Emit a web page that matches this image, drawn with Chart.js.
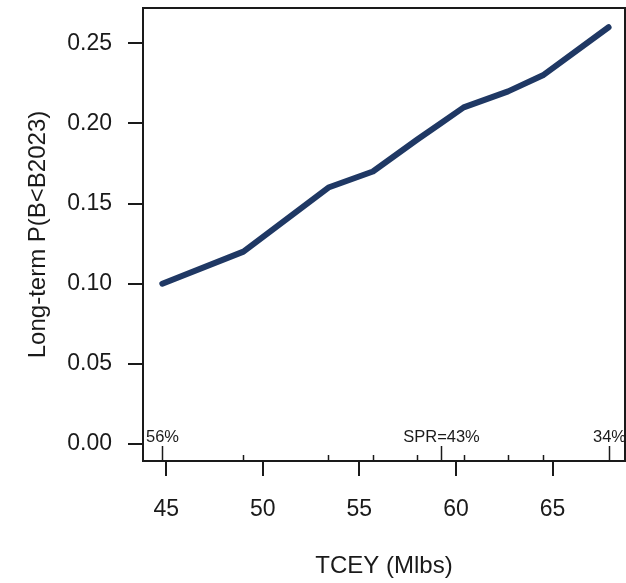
<!DOCTYPE html>
<html>
<head>
<meta charset="utf-8">
<script src="https://cdn.jsdelivr.net/npm/chart.js@4"></script>
<style>
  body { margin: 0; background: #fff; }
  #wrap { width: 626px; height: 583px; position: relative; }
</style>
</head>
<body>
<div id="wrap"><canvas id="risk-chart"></canvas></div>
<script>
// TCEY (Mlbs) at each SPR level, and the long-term risk at that catch
const tcey = [44.8, 49.0, 53.4, 55.7, 58.0, 59.2, 60.4, 62.7, 64.5, 67.9];
const risk = [0.10, 0.12, 0.16, 0.17, 0.19, 0.20, 0.21, 0.22, 0.23, 0.26];
const sprLabels = ['56%', '', '', '', '', 'SPR=43%', '', '', '', '34%'];
const xTicks = [45, 50, 55, 60, 65];
const yTicks = [0, 0.05, 0.10, 0.15, 0.20, 0.25];

const FONT = '"Liberation Sans", Arial, sans-serif';
const INK = '#1a1a1a';

// box round the plot + the SPR marks along the bottom edge
const boxPlugin = {
  id: 'boxAndSpr',
  afterDatasetsDraw(chart) {
    const { ctx, chartArea: a, scales: { x } } = chart;
    ctx.save();
    ctx.strokeStyle = INK;
    ctx.lineWidth = 2;
    ctx.strokeRect(a.left, a.top, a.right - a.left, a.bottom - a.top);

    ctx.lineWidth = 1.5;
    ctx.fillStyle = INK;
    ctx.font = '16.5px ' + FONT;
    ctx.textAlign = 'center';
    ctx.textBaseline = 'middle';
    tcey.forEach((v, i) => {
      const px = Math.round(x.getPixelForValue(v)) + 0.5;
      const h = sprLabels[i] ? 15 : 6;
      ctx.beginPath();
      ctx.moveTo(px, a.bottom);
      ctx.lineTo(px, a.bottom - h);
      ctx.stroke();
      if (sprLabels[i]) ctx.fillText(sprLabels[i], px, a.bottom - 24);
    });
    ctx.restore();
  }
};

new Chart(document.getElementById('risk-chart'), {
  type: 'line',
  data: {
    datasets: [{
      data: tcey.map((v, i) => ({ x: v, y: risk[i] })),
      borderColor: '#1f3864',
      borderWidth: 6,
      borderCapStyle: 'round',
      borderJoinStyle: 'round',
      pointRadius: 0,
      tension: 0,
      fill: false
    }]
  },
  options: {
    responsive: true,
    maintainAspectRatio: false,
    animation: false,
    layout: { padding: { top: 8, right: 1, left: 0, bottom: 0 } },
    plugins: {
      legend: { display: false },
      tooltip: { enabled: false }
    },
    scales: {
      x: {
        type: 'linear',
        min: 43.8,
        max: 68.75,
        afterBuildTicks: axis => { axis.ticks = xTicks.map(v => ({ value: v })); },
        afterFit: axis => { axis.height = 122; axis.paddingLeft = 0; axis.paddingRight = 0; },
        border: { display: false },
        grid: { drawOnChartArea: false, drawTicks: true, tickLength: 15, tickColor: INK, lineWidth: 2 },
        ticks: { color: INK, padding: 20, maxRotation: 0, font: { family: FONT, size: 23 } },
        title: {
          display: true,
          text: 'TCEY (Mlbs)',
          color: INK,
          padding: { top: 0, bottom: 2 },
          font: { family: FONT, size: 24 }
        }
      },
      y: {
        type: 'linear',
        min: -0.0106,
        max: 0.272,
        afterBuildTicks: axis => { axis.ticks = yTicks.map(v => ({ value: v })); },
        afterFit: axis => { axis.width = 143; axis.paddingTop = 0; axis.paddingBottom = 0; },
        border: { display: false },
        grid: { drawOnChartArea: false, drawTicks: true, tickLength: 15, tickColor: INK, lineWidth: 2 },
        ticks: {
          color: INK,
          padding: 16,
          font: { family: FONT, size: 23 },
          callback: v => v.toFixed(2)
        },
        title: {
          display: true,
          text: 'Long-term P(B<B2023)',
          color: INK,
          padding: { top: 24, bottom: 0 },
          font: { family: FONT, size: 24 }
        }
      }
    }
  },
  plugins: [boxPlugin]
});
</script>
</body>
</html>
